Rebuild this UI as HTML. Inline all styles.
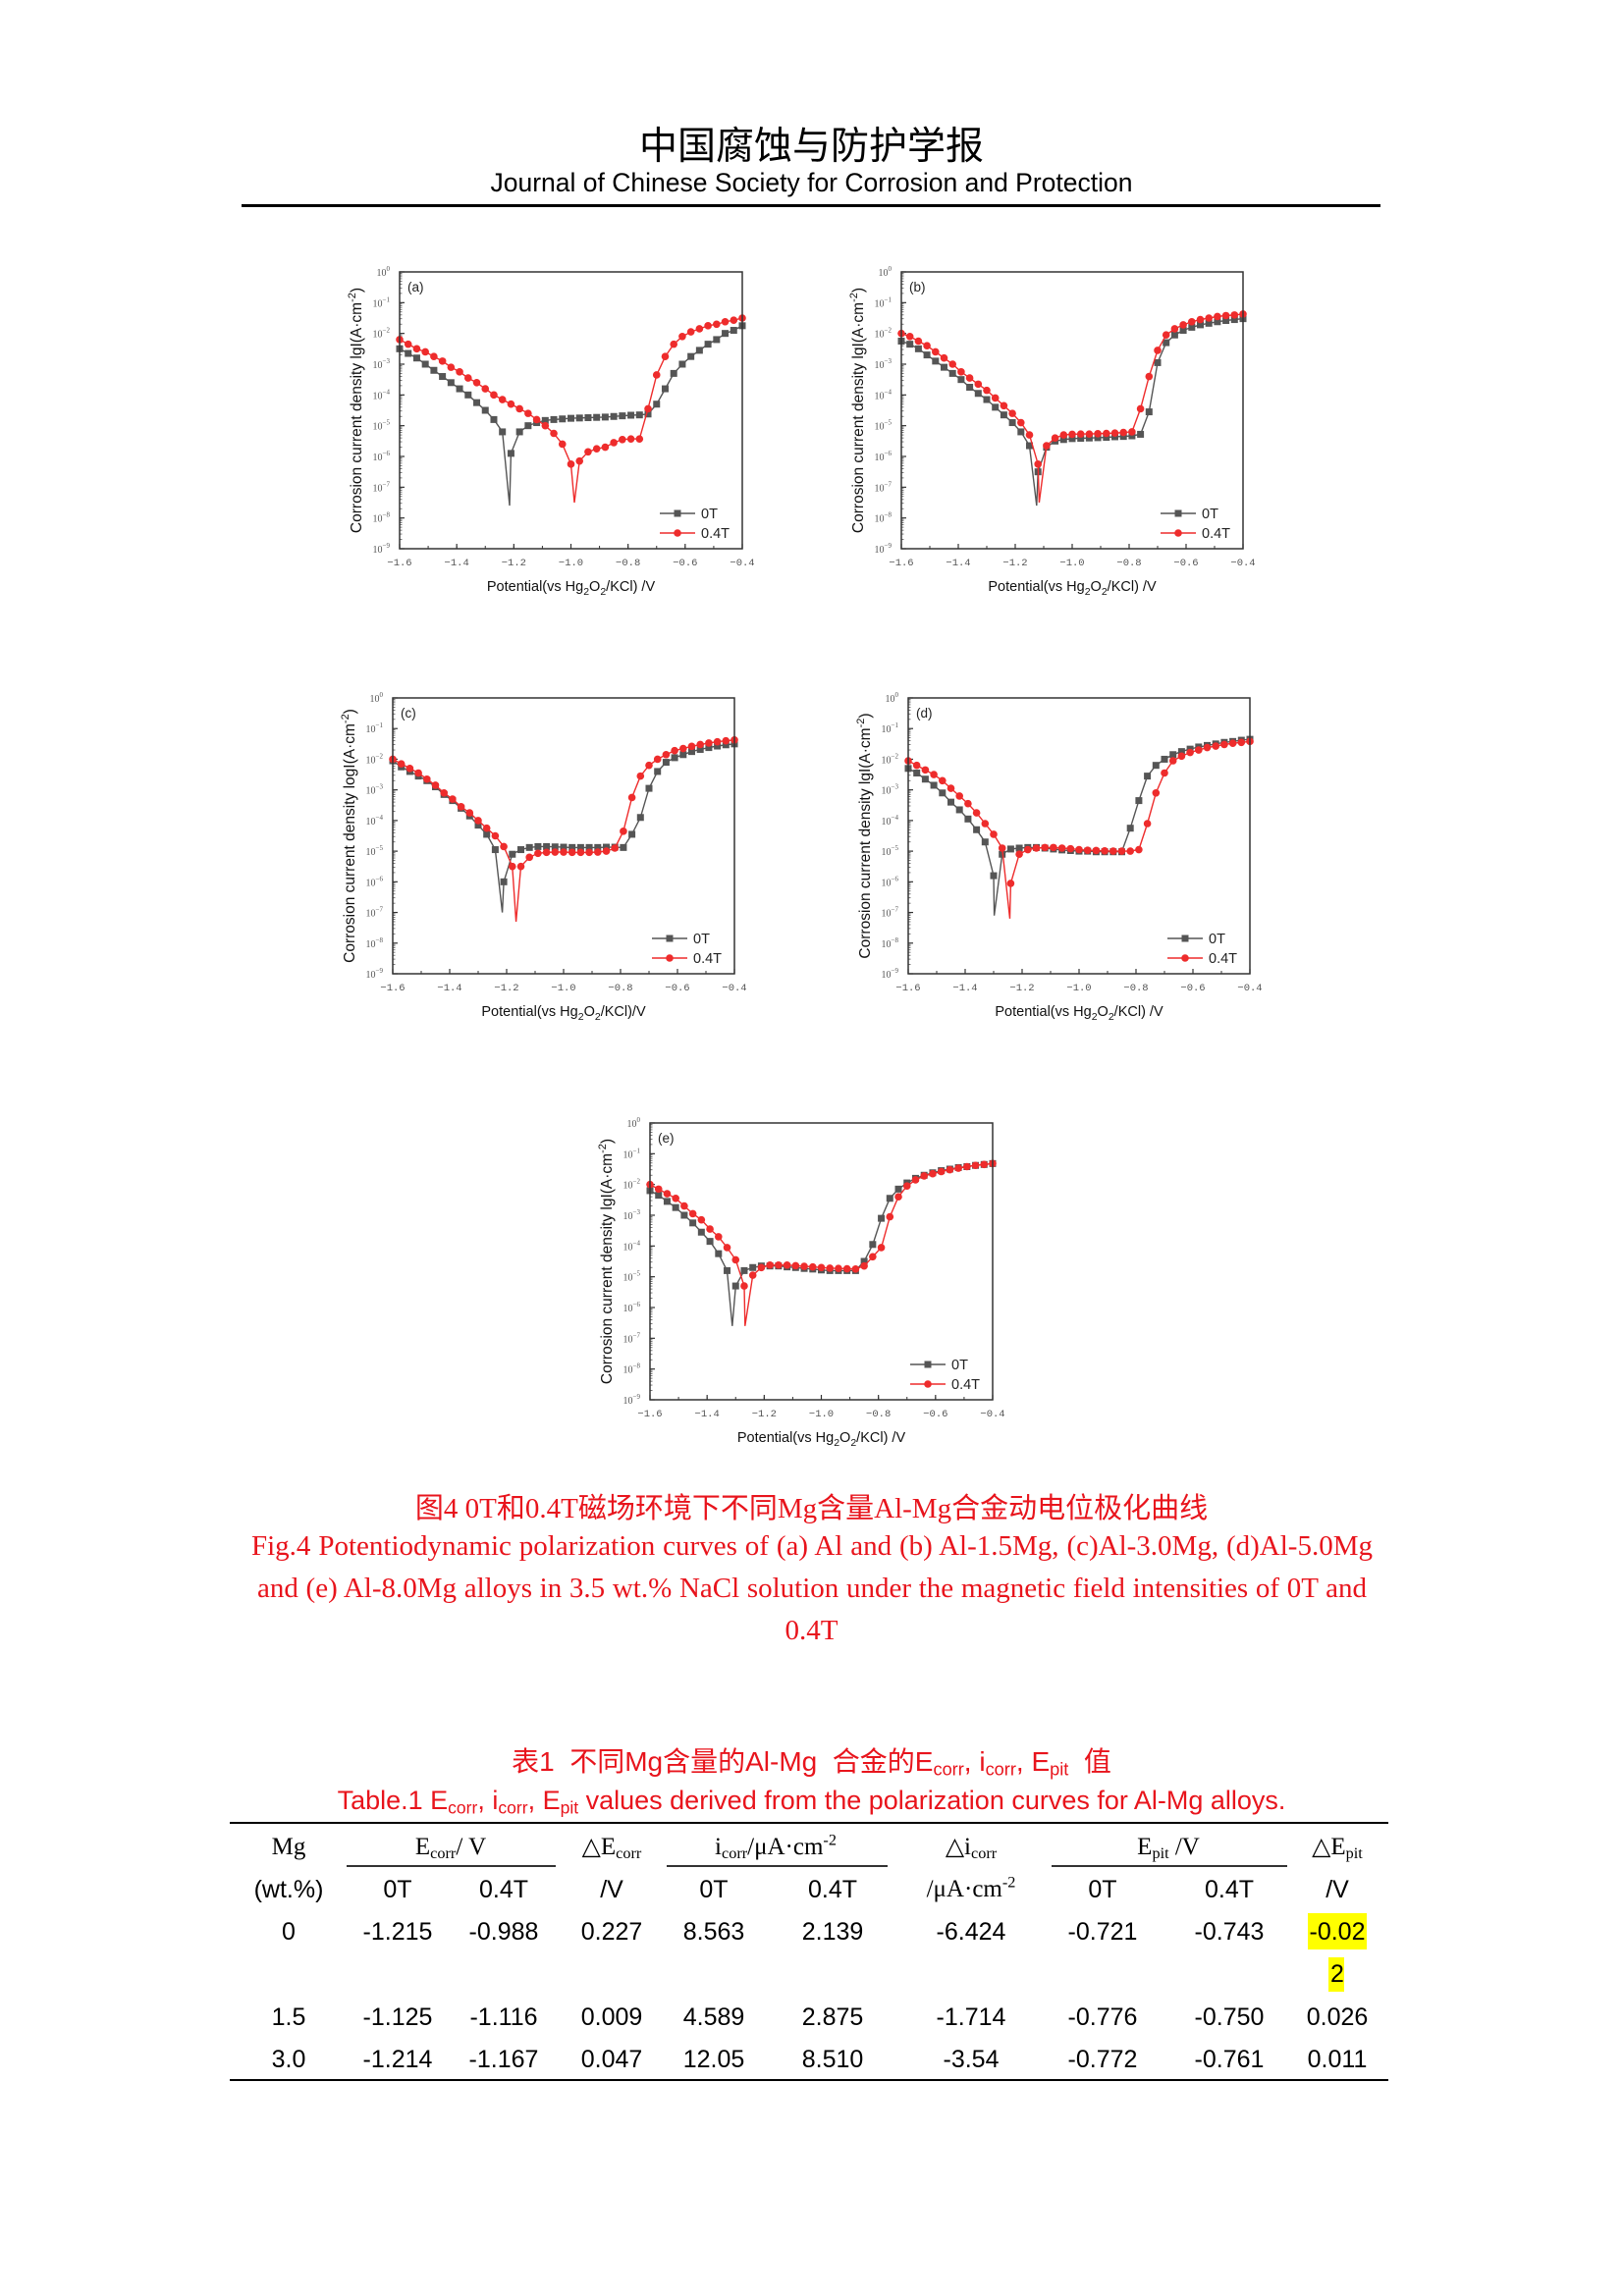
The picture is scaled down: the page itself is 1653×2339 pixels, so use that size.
<!DOCTYPE html>
<html><head><meta charset="utf-8">
<style>
html,body{margin:0;padding:0;background:#fff;}
body{width:1653px;height:2339px;position:relative;overflow:hidden;}
.t{position:absolute;white-space:nowrap;}
.cn{font-family:"Liberation Serif","Noto Sans CJK SC",serif;}
.cell{position:absolute;height:34px;line-height:34px;transform:translateX(-50%);white-space:nowrap;font-size:25px;color:#000;}
.sans{font-family:"Liberation Sans Narrow","Liberation Sans",sans-serif;}
.serif{font-family:"Liberation Serif",serif;}
sub{font-size:65%;vertical-align:-0.25em;line-height:0}
sup{font-size:65%;vertical-align:0.6em;line-height:0}
</style></head>
<body>
<div class="t" style="left:0;width:1653px;text-align:center;top:118px;font-size:39px;font-family:'Liberation Sans','Noto Sans CJK SC',sans-serif;">中国腐蚀与防护学报</div>
<div class="t" style="left:0;width:1653px;text-align:center;top:171px;font-size:26.5px;font-family:'Liberation Sans',sans-serif;">Journal of Chinese Society for Corrosion and Protection</div>
<div class="t" style="left:246px;top:208px;width:1160px;height:3px;background:#000;"></div>

<svg id="charts" width="1653" height="1480" style="position:absolute;left:0;top:0;" xmlns="http://www.w3.org/2000/svg"></svg>

<div class="t cn" style="left:0;width:1653px;text-align:center;top:1513px;font-size:29px;color:#e8141c;">图4 0T和0.4T磁场环境下不同Mg含量Al-Mg合金动电位极化曲线</div>
<div class="t serif" style="left:256px;width:1142px;top:1559px;font-size:29px;color:#e8141c;text-align:justify;text-align-last:justify;">Fig.4 Potentiodynamic polarization curves of (a) Al and (b) Al-1.5Mg, (c)Al-3.0Mg, (d)Al-5.0Mg</div>
<div class="t serif" style="left:262px;width:1130px;top:1602px;font-size:29px;color:#e8141c;text-align:justify;text-align-last:justify;">and (e) Al-8.0Mg alloys in 3.5 wt.% NaCl solution under the magnetic field intensities of 0T and</div>
<div class="t serif" style="left:0;width:1653px;text-align:center;top:1645px;font-size:29px;color:#e8141c;">0.4T</div>

<div class="t" style="left:0;width:1653px;text-align:center;top:1773px;font-size:28px;color:#e8141c;font-family:'Liberation Sans','Noto Sans CJK SC',sans-serif;">表1&nbsp; 不同Mg含量的Al-Mg&nbsp; 合金的E<sub>corr</sub>, i<sub>corr</sub>, E<sub>pit</sub>&nbsp; 值</div>
<div class="t" style="left:0;width:1653px;text-align:center;top:1819px;font-size:27px;color:#e8141c;font-family:'Liberation Sans Narrow','Liberation Sans',sans-serif;">Table.1 E<sub>corr</sub>, i<sub>corr</sub>, E<sub>pit</sub> values derived from the polarization curves for Al-Mg alloys.</div>

<div class="t" style="left:234px;top:1856px;width:1180px;height:2px;background:#000;"></div>
<div class="t" style="left:353px;top:1900px;width:213px;height:2px;background:#333;"></div>
<div class="t" style="left:679px;top:1900px;width:225px;height:2px;background:#333;"></div>
<div class="t" style="left:1071px;top:1900px;width:240px;height:2px;background:#333;"></div>
<div class="t" style="left:234px;top:2118px;width:1180px;height:2px;background:#000;"></div>
<div class="t" style="left:1332px;top:1949px;width:60px;height:37px;background:#ffff00;"></div>
<div class="t" style="left:1353px;top:1994px;width:16px;height:35px;background:#ffff00;"></div>
<div id="table"></div>

<script>
// ---------- chart data ----------
const potentials = [-1.60,-1.57,-1.54,-1.51,-1.48,-1.45,-1.42,-1.39,-1.36,-1.33,-1.30,-1.27,-1.24,-1.21,-1.18,-1.15,-1.12,-1.09,-1.06,-1.03,-1.00,-0.97,-0.94,-0.91,-0.88,-0.85,-0.82,-0.79,-0.76,-0.73,-0.70,-0.67,-0.64,-0.61,-0.58,-0.55,-0.52,-0.49,-0.46,-0.43,-0.40];
const xTicks = [-1.6,-1.4,-1.2,-1.0,-0.8,-0.6,-0.4];
const xTickLabels = ["-1.6","-1.4","-1.2","-1.0","-0.8","-0.6","-0.4"];
const yDecades = [0,-1,-2,-3,-4,-5,-6,-7,-8,-9];
const seriesNames = ["0T","0.4T"];

const a0T = [-2.5,-2.65,-2.8,-3.0,-3.2,-3.4,-3.6,-3.8,-4.0,-4.25,-4.5,-4.8,-5.2,-5.9,-5.2,-5.0,-4.9,-4.83,-4.8,-4.78,-4.76,-4.75,-4.74,-4.73,-4.72,-4.7,-4.68,-4.66,-4.65,-4.62,-4.3,-3.8,-3.3,-3.0,-2.75,-2.55,-2.35,-2.2,-2.0,-1.9,-1.75];
const a04T = [-2.2,-2.35,-2.5,-2.6,-2.75,-2.9,-3.1,-3.25,-3.45,-3.6,-3.8,-4.0,-4.15,-4.3,-4.45,-4.6,-4.8,-5.0,-5.25,-5.6,-6.25,-6.15,-5.85,-5.75,-5.7,-5.55,-5.45,-5.43,-5.43,-4.45,-3.35,-2.75,-2.35,-2.1,-1.95,-1.85,-1.75,-1.7,-1.62,-1.57,-1.5];
const aEcorr = [-1.215,-0.988];
const aDip = [-7.6,-7.5];

const b0T = [-2.25,-2.35,-2.5,-2.7,-2.9,-3.1,-3.3,-3.5,-3.75,-3.95,-4.15,-4.4,-4.65,-4.9,-5.2,-5.65,-6.5,-5.7,-5.5,-5.45,-5.42,-5.41,-5.4,-5.39,-5.38,-5.36,-5.35,-5.33,-5.28,-4.55,-2.95,-2.3,-2.05,-1.9,-1.8,-1.72,-1.67,-1.62,-1.58,-1.55,-1.52];
const b04T = [-2.0,-2.1,-2.25,-2.4,-2.6,-2.8,-3.0,-3.25,-3.45,-3.65,-3.85,-4.1,-4.35,-4.6,-4.9,-5.3,-6.25,-5.65,-5.4,-5.3,-5.28,-5.27,-5.27,-5.26,-5.25,-5.24,-5.22,-5.2,-4.45,-3.4,-2.55,-2.05,-1.85,-1.72,-1.62,-1.55,-1.5,-1.45,-1.42,-1.4,-1.37];
const bEcorr = [-1.125,-1.116];
const bDip = [-7.6,-7.5];

const c0T = [-2.05,-2.25,-2.4,-2.55,-2.7,-2.9,-3.15,-3.35,-3.6,-3.85,-4.15,-4.45,-4.95,-6.0,-5.1,-4.95,-4.88,-4.85,-4.85,-4.86,-4.87,-4.88,-4.88,-4.88,-4.88,-4.87,-4.87,-4.88,-4.45,-3.9,-2.95,-2.4,-2.1,-1.95,-1.85,-1.75,-1.68,-1.62,-1.57,-1.53,-1.5];
const c04T = [-2.0,-2.15,-2.3,-2.45,-2.65,-2.85,-3.1,-3.3,-3.55,-3.75,-4.0,-4.25,-4.5,-4.85,-5.5,-5.5,-5.2,-5.07,-5.04,-5.03,-5.03,-5.04,-5.04,-5.04,-5.03,-5.0,-4.9,-4.35,-3.25,-2.55,-2.2,-2.0,-1.85,-1.72,-1.65,-1.58,-1.52,-1.47,-1.43,-1.4,-1.37];
const cEcorr = [-1.215,-1.167];
const cDip = [-7.0,-7.3];

const d0T = [-2.3,-2.45,-2.65,-2.85,-3.1,-3.4,-3.65,-3.95,-4.3,-4.7,-5.8,-5.1,-4.93,-4.9,-4.88,-4.88,-4.9,-4.93,-4.96,-4.98,-5.0,-5.0,-5.02,-5.02,-5.02,-5.02,-4.25,-3.35,-2.55,-2.2,-2.0,-1.85,-1.75,-1.67,-1.6,-1.55,-1.5,-1.45,-1.42,-1.38,-1.35];
const d04T = [-2.05,-2.2,-2.35,-2.5,-2.7,-2.95,-3.2,-3.45,-3.75,-4.1,-4.45,-4.9,-6.05,-5.1,-4.95,-4.9,-4.88,-4.88,-4.9,-4.92,-4.95,-4.97,-4.98,-4.99,-5.0,-5.0,-5.0,-4.95,-4.1,-3.1,-2.45,-2.05,-1.9,-1.78,-1.7,-1.62,-1.57,-1.52,-1.48,-1.45,-1.42];
const dEcorr = [-1.298,-1.243];
const dDip = [-7.1,-7.2];

const e0T = [-2.2,-2.35,-2.55,-2.75,-3.0,-3.25,-3.55,-3.85,-4.25,-4.8,-5.3,-4.8,-4.7,-4.65,-4.65,-4.65,-4.68,-4.7,-4.73,-4.75,-4.78,-4.8,-4.8,-4.8,-4.8,-4.5,-3.95,-3.1,-2.45,-2.15,-1.95,-1.8,-1.7,-1.62,-1.55,-1.5,-1.45,-1.42,-1.38,-1.35,-1.32];
const e04T = [-2.0,-2.15,-2.3,-2.45,-2.7,-2.95,-3.15,-3.45,-3.7,-4.05,-4.45,-5.3,-4.95,-4.7,-4.62,-4.62,-4.62,-4.64,-4.66,-4.68,-4.7,-4.72,-4.73,-4.74,-4.75,-4.65,-4.35,-4.05,-3.05,-2.4,-2.05,-1.85,-1.72,-1.65,-1.58,-1.52,-1.47,-1.42,-1.38,-1.35,-1.32];
const eEcorr = [-1.312,-1.267];
const eDip = [-6.6,-6.6];

const panels = [
  {id:"a",L:407,T:277,W:349,H:282,s0:a0T,s1:a04T,ec:aEcorr,dip:aDip,yt:"lgI",xt:" /V"},
  {id:"b",L:918,T:277,W:348,H:282,s0:b0T,s1:b04T,ec:bEcorr,dip:bDip,yt:"lgI",xt:" /V"},
  {id:"c",L:400,T:711,W:348,H:281,s0:c0T,s1:c04T,ec:cEcorr,dip:cDip,yt:"logI",xt:"/V"},
  {id:"d",L:925,T:711,W:348,H:281,s0:d0T,s1:d04T,ec:dEcorr,dip:dDip,yt:"lgI",xt:" /V"},
  {id:"e",L:662,T:1144,W:349,H:282,s0:e0T,s1:e04T,ec:eEcorr,dip:eDip,yt:"lgI",xt:" /V"}
];

const NS="http://www.w3.org/2000/svg";
const svg=document.getElementById("charts");
function mk(tag,attrs,parent){const e=document.createElementNS(NS,tag);for(const k in attrs)e.setAttribute(k,attrs[k]);(parent||svg).appendChild(e);return e;}

panels.forEach(p=>{
  const g=mk("g",{});
  
  
  const xs=v=>p.L+(v+1.6)/1.2*p.W;
  const ys=v=>p.T+(0-v)/9*p.H;
  for(let d=0;d>=-9;d--){
    const y=ys(d);
    const t=mk("line",{x1:p.L,x2:p.L+5,y1:y,y2:y,stroke:"#333","stroke-width":1.2},g);
    
    
    if(d>-9){for(let m=2;m<10;m++){const ym=ys(d-1+Math.log10(m));mk("line",{x1:p.L,x2:p.L+2.5,y1:ym,y2:ym,stroke:"#555","stroke-width":0.8},g);}}
  }
  yDecades.forEach(d=>{
    const tx=mk("text",{x:p.L-10,y:ys(d)+4,"text-anchor":"end","font-family":"Liberation Serif, serif","font-size":"10","fill":"#555"},g);
    
    
    tx.textContent="10";
    const sp=mk("tspan",{dy:"-5","font-size":"7"},tx);sp.textContent=String(d).replace("-","−");
  });
  for(let v=-1.6;v<=-0.39;v+=0.1){const x=xs(v);mk("line",{x1:x,x2:x,y1:p.T+p.H,y2:p.T+p.H-3,stroke:"#333","stroke-width":1},g);}
  xTicks.forEach((v,i)=>{
    const x=xs(v);
    const tk=mk("line",{x1:x,x2:x,y1:p.T+p.H,y2:p.T+p.H-5,stroke:"#333","stroke-width":1.2},g);
    
    
    const tx=mk("text",{x:x,y:p.T+p.H+17,"text-anchor":"middle","font-family":"Liberation Mono, monospace","font-size":"10.5","fill":"#555"},g);
    
    
    tx.textContent=xTickLabels[i].replace("-","−");
  });
  const cols=["#555555","#ee2c2c"];
  [p.s0,p.s1].forEach((arr,si)=>{
    const pts=potentials.map((e,i)=>[e,arr[i]]);
    pts.push([p.ec[si],p.dip[si]]);
    pts.sort((a,b)=>a[0]-b[0]);
    const path=mk("polyline",{points:pts.map(q=>xs(q[0]).toFixed(1)+","+ys(q[1]).toFixed(1)).join(" "),fill:"none",stroke:cols[si],"stroke-width":1.4},g);
    
    
    potentials.forEach((e,i)=>{
      const x=xs(e),y=ys(arr[i]);
      let m;
      if(si===0){m=mk("rect",{x:x-3.5,y:y-3.5,width:7,height:7,fill:cols[0]},g);}
      else{m=mk("circle",{cx:x,cy:y,r:3.8,fill:cols[1]},g);}
      
      
    });
  });
  const fr=mk("rect",{x:p.L,y:p.T,width:p.W,height:p.H,fill:"none",stroke:"#333","stroke-width":1.5},g);
  
  
  const lb=mk("text",{x:p.L+8,y:p.T+20,"font-family":"Liberation Sans, sans-serif","font-size":"13.5","fill":"#222"},g);
  
  
  lb.textContent="("+p.id+")";
  [0,1].forEach(si=>{
    const y=p.T+p.H-(si===0?36:16);
    const x0=p.L+p.W-84,x1=p.L+p.W-48;
    const ln=mk("line",{x1:x0,x2:x1,y1:y,y2:y,stroke:cols[si],"stroke-width":1.4},g);
    
    
    if(si===0)mk("rect",{x:(x0+x1)/2-3.5,y:y-3.5,width:7,height:7,fill:cols[0]},g);
    else mk("circle",{cx:(x0+x1)/2,cy:y,r:3.8,fill:cols[1]},g);
    const tx=mk("text",{x:p.L+p.W-42,y:y+5,"font-family":"Liberation Sans, sans-serif","font-size":"14.5","fill":"#222"},g);
    
    
    tx.textContent=seriesNames[si];
  });
  const xt=mk("text",{x:p.L+p.W/2,y:p.T+p.H+43,"text-anchor":"middle","font-family":"Liberation Sans, sans-serif","font-size":"14.5","fill":"#111"},g);
  
  
  xt.innerHTML='Potential(vs Hg<tspan dy="4" font-size="10.5">2</tspan><tspan dy="-4">O</tspan><tspan dy="4" font-size="10.5">2</tspan><tspan dy="-4">/KCl)'+p.xt+'</tspan>';
  const cx=p.L-39,cy=p.T+p.H/2;
  const yt=mk("text",{x:cx,y:cy,"text-anchor":"middle","font-family":"Liberation Sans, sans-serif","font-size":"15.5","fill":"#111",transform:"rotate(-90 "+cx+" "+cy+")"},g);
  
  
  yt.innerHTML='Corrosion current density '+p.yt+'(A·cm<tspan dy="-6" font-size="11">-2</tspan><tspan dy="6">)</tspan>';
});

// ---------- table ----------
const colX=[294,405,513,623,727,848,989,1123,1252,1362];
const rowsData=[
  ["0","-1.215","-0.988","0.227","8.563","2.139","-6.424","-0.721","-0.743","-0.02"],
  ["1.5","-1.125","-1.116","0.009","4.589","2.875","-1.714","-0.776","-0.750","0.026"],
  ["3.0","-1.214","-1.167","0.047","12.05","8.510","-3.54","-0.772","-0.761","0.011"]
];
const rowY=[1968,2055,2098];
const tbl=document.getElementById("table");
function cell(x,y,html,cls,name){
  const d=document.createElement("div");
  d.className="cell "+cls;
  d.style.left=x+"px";d.style.top=(y-17)+"px";
  d.innerHTML=html;
  
  
  tbl.appendChild(d);
}
cell(294,1882,"Mg","serif","header-mg");
cell(459,1882,"E<sub>corr</sub>/ V","serif","header-ecorr");
cell(623,1882,"△E<sub>corr</sub>","serif","header-delta-ecorr");
cell(790,1882,"i<sub>corr</sub>/μA·cm<sup>-2</sup>","serif","header-icorr");
cell(989,1882,"△i<sub>corr</sub>","serif","header-delta-icorr");
cell(1190,1882,"E<sub>pit</sub> /V","serif","header-epit");
cell(1362,1882,"△E<sub>pit</sub>","serif","header-delta-epit");
const sub2=["(wt.%)","0T","0.4T","/V","0T","0.4T","/μA·cm<sup>-2</sup>","0T","0.4T","/V"];
sub2.forEach((s,i)=>cell(colX[i],1925,s,(i===6?"serif":"sans"),"subheader-cell"));
rowsData.forEach((r,ri)=>r.forEach((v,ci)=>cell(colX[ci],rowY[ri],v,"sans","data-cell")));
cell(1362,2011,"2","sans","data-cell-wrap");
</script>
</body></html>
